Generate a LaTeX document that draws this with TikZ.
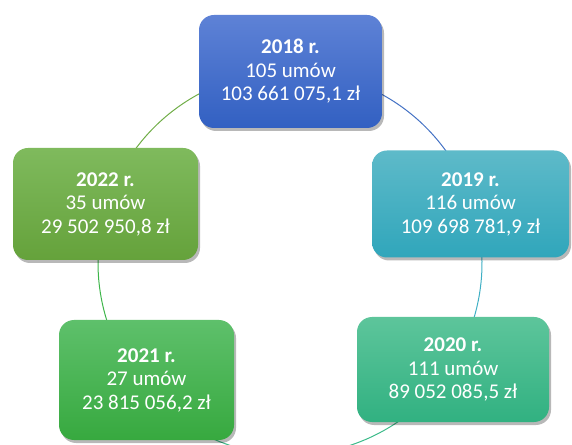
\documentclass[tikz,border=0pt]{standalone}
\usepackage{fontspec}
\setmainfont{Carlito}
\usetikzlibrary{shadows,calc}
\definecolor{c18t}{HTML}{5E82D6}\definecolor{c18b}{HTML}{3260C2}
\definecolor{c19t}{HTML}{5EBAC9}\definecolor{c19b}{HTML}{30A6BB}
\definecolor{c20t}{HTML}{5DC59B}\definecolor{c20b}{HTML}{31B181}
\definecolor{c21t}{HTML}{5EC06B}\definecolor{c21b}{HTML}{37A93F}
\definecolor{c22t}{HTML}{7FBA5D}\definecolor{c22b}{HTML}{65A23B}
\definecolor{a18}{HTML}{4472C4}\definecolor{a19}{HTML}{3FAFC4}
\definecolor{a20}{HTML}{3DBB8A}\definecolor{a21}{HTML}{3DB54A}
\definecolor{a22}{HTML}{70AD47}
\tikzset{
  yearbox/.style={rounded corners=15pt, draw=none, align=center, text=white,
    font=\fontsize{21}{23.5}\selectfont, inner sep=0pt,
    drop shadow={shadow xshift=2pt, shadow yshift=-3pt, opacity=0.28, fill=black}},
  ring/.style={line width=1pt}
}
\begin{document}
\begin{tikzpicture}[x=1pt,y=1pt]
\useasboundingbox (0,0) rectangle (572,444);
\coordinate (c) at (290,181);
\def\R{192}
% ring segments
\draw[ring,a18] ($(c)+(90:\R)$) arc[start angle=90,end angle=18,radius=\R];
\draw[ring,a19] ($(c)+(18:\R)$) arc[start angle=18,end angle=-33,radius=\R];
\draw[ring,a20] ($(c)+(-33:\R)$) arc[start angle=-33,end angle=-141,radius=\R];
\draw[ring,a21] ($(c)+(-141:\R)$) arc[start angle=-141,end angle=-198,radius=\R];
\draw[ring,a22] ($(c)+(162:\R)$) arc[start angle=162,end angle=90,radius=\R];
% boxes
\node[yearbox, top color=c18t, bottom color=c18b, minimum width=183pt, minimum height=113pt]
  (y18) at (290.5,372.5) {\textbf{2018 r.}\\105 umów\\103 661 075,1 zł};
\node[yearbox, top color=c19t, bottom color=c19b, minimum width=197pt, minimum height=107pt]
  (y19) at (470.5,240) {\textbf{2019 r.}\\116 umów\\109 698 781,9 zł};
\node[yearbox, top color=c20t, bottom color=c20b, minimum width=192pt, minimum height=105pt]
  (y20) at (453,74.5) {\textbf{2020 r.}\\111 umów\\89 052 085,5 zł};
\node[yearbox, top color=c21t, bottom color=c21b, minimum width=175pt, minimum height=120pt]
  (y21) at (146.5,64) {\textbf{2021 r.}\\27 umów\\23 815 056,2 zł};
\node[yearbox, top color=c22t, bottom color=c22b, minimum width=185pt, minimum height=112pt]
  (y22) at (105.5,240) {\textbf{2022 r.}\\35 umów\\29 502 950,8 zł};
\end{tikzpicture}
\end{document}
